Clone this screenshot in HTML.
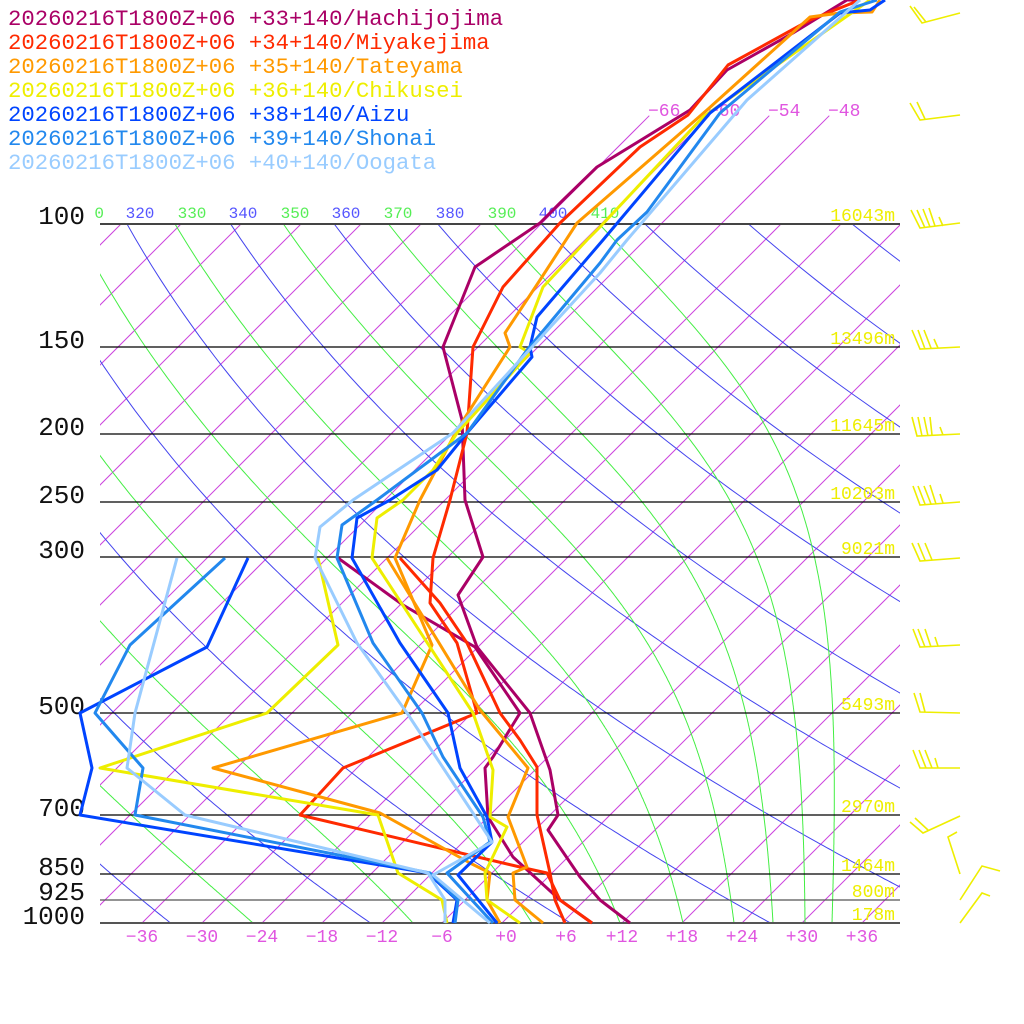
<!DOCTYPE html>
<html><head><meta charset="utf-8"><style>
html,body{margin:0;padding:0;background:#fff;}
svg{display:block;}
text{font-family:"Liberation Mono","DejaVu Sans Mono",monospace;}
</style></head><body>
<svg id="s" width="1024" height="1024" viewBox="0 0 1024 1024" xmlns="http://www.w3.org/2000/svg">
<defs>
<clipPath id="plot"><rect x="100" y="224" width="800" height="699"/></clipPath>
<clipPath id="ext"><rect x="100" y="110" width="800" height="813"/></clipPath>
</defs>
<rect width="1024" height="1024" fill="#fff"/>
<g id="iso" clip-path="url(#ext)" stroke="#cc44dd" stroke-width="1" fill="none"></g>
<g id="dry" clip-path="url(#plot)" stroke="#4444ee" stroke-width="1" fill="none"></g>
<g id="moist" clip-path="url(#plot)" stroke="#44ee44" stroke-width="1" fill="none"></g>
<g stroke="#000" stroke-width="1.3">
<line x1="100" y1="224" x2="900" y2="224" stroke="#444" stroke-width="2"/>
<line x1="100" y1="347" x2="900" y2="347"/>
<line x1="100" y1="434" x2="900" y2="434"/>
<line x1="100" y1="502" x2="900" y2="502"/>
<line x1="100" y1="557" x2="900" y2="557"/>
<line x1="100" y1="713" x2="900" y2="713"/>
<line x1="100" y1="815" x2="900" y2="815"/>
<line x1="100" y1="874" x2="900" y2="874"/>
<line x1="100" y1="900" x2="900" y2="900" stroke="#555"/>
<line x1="100" y1="923" x2="900" y2="923" stroke="#555" stroke-width="2"/>
</g>
<g font-size="26" fill="#111" text-anchor="end">
<text x="85" y="224">100</text><text x="85" y="348">150</text><text x="85" y="435">200</text>
<text x="85" y="503">250</text><text x="85" y="558">300</text><text x="85" y="714">500</text>
<text x="85" y="816">700</text><text x="85" y="875">850</text><text x="85" y="900">925</text>
<text x="85" y="924">1000</text>
</g>
<g font-size="18" fill="#eeee00" text-anchor="end">
<text x="895" y="221">16043m</text><text x="895" y="344">13496m</text><text x="895" y="431">11645m</text>
<text x="895" y="499">10203m</text><text x="895" y="554">9021m</text><text x="895" y="710">5493m</text>
<text x="895" y="812">2970m</text><text x="895" y="871">1464m</text><text x="895" y="897">800m</text>
<text x="895" y="920">178m</text>
</g>
<g font-size="16" text-anchor="middle">
<text x="104" y="218" fill="#55ee55" text-anchor="end">0</text>
<text x="140" y="218" fill="#5555ff">320</text><text x="192" y="218" fill="#55ee55">330</text>
<text x="243" y="218" fill="#5555ff">340</text><text x="295" y="218" fill="#55ee55">350</text>
<text x="346" y="218" fill="#5555ff">360</text><text x="398" y="218" fill="#55ee55">370</text>
<text x="450" y="218" fill="#5555ff">380</text><text x="502" y="218" fill="#55ee55">390</text>
<text x="553" y="218" fill="#5555ff">400</text><text x="605" y="218" fill="#55ee55">410</text>
</g>
<g font-size="18" fill="#e055e0" text-anchor="middle">
<text x="142" y="942">−36</text><text x="202" y="942">−30</text><text x="262" y="942">−24</text>
<text x="322" y="942">−18</text><text x="382" y="942">−12</text><text x="442" y="942">−6</text>
<text x="506" y="942">+0</text><text x="566" y="942">+6</text><text x="622" y="942">+12</text>
<text x="682" y="942">+18</text><text x="742" y="942">+24</text><text x="802" y="942">+30</text>
<text x="862" y="942">+36</text>
</g>
<g font-size="18" fill="#e055e0">
<text x="648" y="116">−66</text><text x="708" y="116">−60</text><text x="768" y="116">−54</text><text x="828" y="116">−48</text>
</g>
<g fill="none" stroke-width="3" stroke-linejoin="round">
<polyline stroke="#aa0066" points="860,0 847,0 793,33 727,70 690,110 597,167 560,203 540,223 475,267 443,347 462,420 465,500 483,557 458,595 477,647 530,713 550,770 558,815 548,830 580,877 600,900 630,923"/>
<polyline stroke="#aa0066" points="338,558 403,605 475,647 520,713 493,757 485,768 488,817 513,857 560,900 592,923"/>
<polyline stroke="#ff2a00" points="860,0 810,20 728,65 688,115 640,147 560,223 503,287 473,347 467,433 450,500 433,558 430,603 457,643 477,713 343,768 300,815 520,867 547,873 560,900 592,923"/>
<polyline stroke="#ff2a00" points="400,558 440,603 467,643 500,713 520,740 537,767 537,815 550,873 555,900 565,923"/>
<polyline stroke="#ff9900" points="880,0 872,12 840,13 810,17 707,110 600,203 577,223 540,280 505,333 510,347 457,430 420,500 395,558 432,645 402,713 213,768 380,813 470,863 490,873 487,900 500,923"/>
<polyline stroke="#ff9900" points="387,558 425,620 480,710 528,768 508,817 527,867 513,873 515,900 543,923"/>
<polyline stroke="#eeee00" points="870,0 703,117 600,227 587,240 543,287 520,347 530,353 457,433 433,470 403,500 377,518 372,558 473,713 493,770 490,817 507,827 485,873 487,900 520,923"/>
<polyline stroke="#eeee00" points="318,558 338,645 267,713 100,768 378,815 398,873 442,900 447,923"/>
<polyline stroke="#0044ff" points="885,0 870,10 840,13 710,113 603,240 537,317 530,347 532,357 467,433 437,470 390,500 357,518 352,558 400,643 448,713 460,768 487,817 492,842 458,875 497,923"/>
<polyline stroke="#0044ff" points="248,558 207,647 80,713 92,768 80,815 428,873 457,900 453,923"/>
<polyline stroke="#2288ee" points="877,0 840,12 720,113 647,212 617,240 600,263 527,350 467,433 377,500 342,525 337,558 373,643 422,713 443,757 483,817 490,842 447,873 493,923"/>
<polyline stroke="#2288ee" points="225,558 130,645 95,713 143,768 135,815 430,873 458,900 455,923"/>
<polyline stroke="#99ccff" points="860,0 747,100 627,240 600,273 453,433 353,500 320,527 315,558 357,643 407,713 492,842 433,875 490,923"/>
<polyline stroke="#99ccff" points="177,558 135,713 127,768 185,815 428,873 445,900 445,923"/>
</g>
<g stroke="#eeee00" stroke-width="1.6" fill="none">
<path d="M960,13 L922,23 L910,6 M926,22 L914,7"/>
<path d="M960,115 L920,120 L910,103 M925,119 L917,102"/>
<path d="M960,223 L920,228 L911,210 M925,228 L917,210 M930,227 L923,209 M935,226 L929,208 M943,226 L939,217"/>
<path d="M960,347 L920,349 L912,330 M925,349 L918,330 M931,348 L924,330 M938,348 L934,339"/>
<path d="M960,434 L917,436 L912,417 M922,436 L918,417 M928,436 L924,417 M932,435 L930,417 M943,435 L940,427"/>
<path d="M960,502 L920,505 L913,486 M925,504 L918,486 M931,504 L924,486 M936,504 L930,485 M943,503 L940,494"/>
<path d="M960,558 L920,561 L912,543 M925,560 L918,543 M932,560 L925,543"/>
<path d="M960,645 L920,647 L913,629 M925,647 L918,629 M931,647 L925,629 M938,646 L935,637"/>
<path d="M960,713 L920,712 L914,693 M925,712 L920,693"/>
<path d="M960,768 L920,768 L913,750 M926,768 L919,750 M932,768 L925,750 M938,768 L935,758"/>
<path d="M960,816 L923,833 L910,822 M928,830 L915,818"/>
<path d="M960,874 L948,837 L957,832"/>
<path d="M1000,871 L982,866 L960,900"/>
<path d="M960,923 L982,893 L990,896"/>
</g>
<g font-size="22.3">
<text x="8" y="25" fill="#aa0066">20260216T1800Z+06 +33+140/Hachijojima</text>
<text x="8" y="49" fill="#ff2a00">20260216T1800Z+06 +34+140/Miyakejima</text>
<text x="8" y="73" fill="#ff9900">20260216T1800Z+06 +35+140/Tateyama</text>
<text x="8" y="97" fill="#eeee00">20260216T1800Z+06 +36+140/Chikusei</text>
<text x="8" y="121" fill="#0044ff">20260216T1800Z+06 +38+140/Aizu</text>
<text x="8" y="145" fill="#2288ee">20260216T1800Z+06 +39+140/Shonai</text>
<text x="8" y="169" fill="#99ccff">20260216T1800Z+06 +40+140/Oogata</text>
</g>
</svg>
<script>
(function(){
var NS="http://www.w3.org/2000/svg";
function Y(p){return 923-699*Math.log10(1000/p);}
function X(T,p){return 502+10*T+(923-Y(p));}
function add(g,pts){var e=document.createElementNS(NS,"polyline");e.setAttribute("points",pts.map(function(a){return a[0].toFixed(1)+","+a[1].toFixed(1);}).join(" "));document.getElementById(g).appendChild(e);}
for(var T=-120;T<=50;T+=6){var pt=(T>=-66&&T<=-48)?70:100;add("iso",[[X(T,1000),Y(1000)],[X(T,pt),Y(pt)]]);}
for(var th=200;th<=460;th+=20){var a=[];for(var p=1000;p>=95;p-=5){var Tk=th*Math.pow(p/1000,0.2857);a.push([X(Tk-273.15,p),Y(p)]);}add("dry",a);}
function es(Tc){return 6.112*Math.exp(17.67*Tc/(Tc+243.5));}
function rs(Tc,p){var e=es(Tc);return 0.622*e/(p-e);}
var starts=[-45,-24.9,-8.9,3,11.8,18.1,23.2,27.1,30.3,33];
for(var k=0;k<starts.length;k++){
var Tc=starts[k],a=[],p=1000;a.push([X(Tc,p),Y(p)]);
while(p>95){var dp=-2;var Tk=Tc+273.15,r=rs(Tc,p);var dTdp=(287*Tk+2.5e6*r)/(p*(1005+2.5e6*2.5e6*r*0.622/(287*Tk*Tk)));Tc+=dTdp*dp;p+=dp;a.push([X(Tc,p),Y(p)]);}
add("moist",a);}
})();
</script>
</body></html>
